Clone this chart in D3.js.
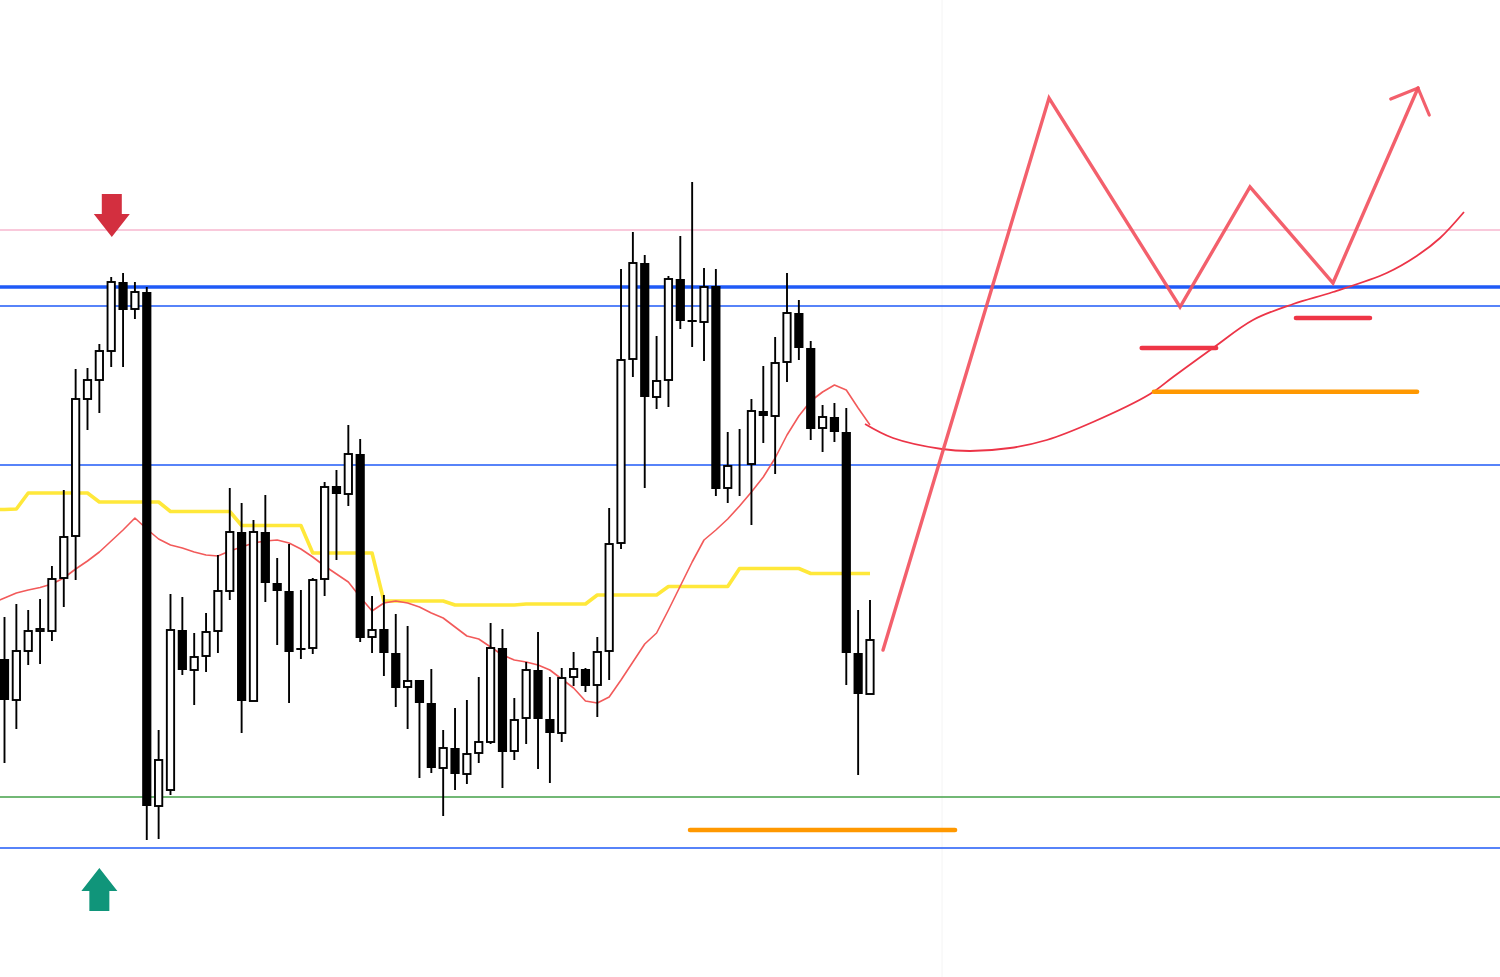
<!DOCTYPE html>
<html>
<head>
<meta charset="utf-8">
<script src="https://cdn.jsdelivr.net/npm/d3@7/dist/d3.min.js"></script>
<style>
  html, body { margin: 0; padding: 0; background: #ffffff; }
  svg { display: block; }
</style>
</head>
<body>
<svg id="chart" width="1500" height="977"></svg>
<script>
// ---------------- DATA ----------------
// candle OHLC (arbitrary price units, index 0..73)
const open  = [341,300,349,369,369,422,464,601,620,649,718,691,708,194,210,370,330,344,369,409,
               468,299,468,417,409,352,352,421,514,506,546,363,371,347,313,320,297,232,252,226,
               247,258,352,249,282,330,281,267,323,331,315,349,457,641,737,603,620,721,680,678,
               714,512,536,536,589,584,638,687,652,572,583,568,347,306];
const high  = [383,396,390,401,434,510,631,632,656,723,727,718,713,270,406,403,367,387,445,512,
               497,480,505,442,456,410,422,518,530,575,561,404,405,386,374,320,331,270,292,300,
               323,377,371,302,338,368,323,332,348,332,363,492,731,768,745,664,724,764,818,732,
               731,568,571,601,634,663,727,700,659,595,597,592,390,400];
const low   = [237,271,335,336,359,393,420,570,587,633,633,681,160,161,205,325,295,328,347,400,
               267,299,398,355,297,341,346,404,440,494,358,347,324,293,271,222,227,184,210,216,
               237,256,212,240,256,231,217,258,314,308,283,320,451,623,512,591,593,671,653,639,
               504,497,504,475,557,526,618,640,560,548,558,315,225,306];
const close = [300,349,369,371,421,463,601,620,649,718,690,708,194,240,370,330,343,368,409,468,
               299,468,417,409,348,350,420,513,506,546,362,370,347,312,319,297,232,252,226,246,
               258,352,248,280,330,281,267,322,331,314,348,456,640,737,603,619,721,679,679,713,
               511,534,536,589,584,637,687,652,571,583,568,347,306,360];

// moving averages, first value belongs to index -1
const maStart = -1;
const yellowMA = [490.5,490.5,491,507,507,507,507,507,507,498,498,498,498,498,498,488.5,488.5,488.5,488.5,488.5,488.5,
                  474.5,474.5,474.5,474.5,474.5,474.5,447,447,447,447,447,447,399,399,399,399,399,399,
                  395,395,395,395,395,395,396,396,396,396,396,396,405,405,405,405,405,405,
                  413.5,413.5,413.5,413.5,413.5,413.5,431.5,431.5,431.5,431.5,431.5,431.5,426.5,426.5,426.5,426.5,426.5,426.5];
const redMA = [397,402,407,410,412.5,416,422,431,439,448,459,470,482,471,461,455,452,448,445,444,449,
               453,457,459,460,457,451,443,434,426,418,403,389,397,399,397,393,387,382,373,364,
               361,353,345,340,338,335,330,321,312,299,297,303,320,338,356,367,390,414,438,460,
               470,481,494,508,523,542,565,584,599,608,615,610,592,575];

// projected MA curve  [index, value]
const forecastIdx = [72.58,74.94,79.05,81.44,84.81,87.91,91.81,96.62,98.56,101.93,105.3,108.7,112.05,116.58,119.11,121.08,123.1];
const forecastVal = [576,562,551,549,552,560,578,606,623,652,680,696,708,727,744,762,788];

// projected zigzag path
const zigIdx = [74.10,88.10,99.15,105.05,112.05,119.22];
const zigVal = [350,902,693,813,717,912];
const arrowHeadIdx = [116.92,119.22,120.17];
const arrowHeadVal = [901,912,885];

// full-width horizontal levels
const levels      = [770,713,694,535,203,152];
const levelColors = ["#f7b7cf","#1f5af7","#1f5af7","#1f5af7","#43a047","#1f5af7"];
const levelWidths = [1.3,3.4,1.7,1.7,1.6,1.7];

// short horizontal segments
const segStart  = [95.92,108.93,96.95,57.82];
const segEnd    = [102.19,115.17,119.14,80.17];
const segVal    = [652,682,608.3,170];
const segColors = ["#ee3546","#ee3546","#ff9800","#ff9800"];

// signal arrows
const arrowIdx = [9.05, 8.0];
const arrowVal = [763, 132];
const arrowDir = ["down","up"];
const arrowColors = ["#d32f3f","#10957a"];

// ---------------- SCALES ----------------
const W = 1500, H = 977;
const svg = d3.select("#chart");
const x = d3.scaleLinear().domain([0, 73]).range([4.5, 870]);
const y = d3.scaleLinear().domain([23, 1000]).range([977, 0]);

svg.append("rect").attr("width", W).attr("height", H).attr("fill", "#ffffff");

// faint vertical separator
svg.append("line").attr("x1", 942).attr("x2", 942).attr("y1", 0).attr("y2", H)
   .attr("stroke", "#f4f4f4").attr("stroke-width", 1);

// levels
svg.append("g").selectAll("line").data(levels).join("line")
  .attr("x1", 0).attr("x2", W)
  .attr("y1", d => y(d)).attr("y2", d => y(d))
  .attr("stroke", (d, i) => levelColors[i])
  .attr("stroke-width", (d, i) => levelWidths[i]);

// moving averages
const maLine = d3.line().x((d, i) => x(i + maStart)).y(d => y(d));
svg.append("path").datum(yellowMA).attr("d", maLine)
  .attr("fill", "none").attr("stroke", "#ffe83a").attr("stroke-width", 3.6)
  .attr("stroke-linejoin", "round");
svg.append("path").datum(redMA).attr("d", maLine)
  .attr("fill", "none").attr("stroke", "#f25a5a").attr("stroke-width", 1.6)
  .attr("stroke-linejoin", "round");

// candles
const candles = d3.range(open.length).map(i => ({i, o: open[i], h: high[i], l: low[i], c: close[i]}));
const bodyW = 9.2;
const g = svg.append("g");
g.selectAll("line.wick").data(candles).join("line").attr("class", "wick")
  .attr("x1", d => x(d.i)).attr("x2", d => x(d.i))
  .attr("y1", d => y(d.h)).attr("y2", d => y(d.l))
  .attr("stroke", "#000").attr("stroke-width", 1.9);
g.selectAll("rect.body").data(candles).join("rect").attr("class", "body")
  .each(function(d) {
    const up = d.c >= d.o;
    const top = y(Math.max(d.o, d.c));
    const bot = y(Math.min(d.o, d.c));
    const sel = d3.select(this);
    if (up) {
      sel.attr("x", x(d.i) - bodyW / 2 + 0.95).attr("width", bodyW - 1.9)
         .attr("y", top).attr("height", Math.max(0, bot - top))
         .attr("fill", "#fff").attr("stroke", "#000").attr("stroke-width", 1.9);
    } else {
      sel.attr("x", x(d.i) - bodyW / 2).attr("width", bodyW)
         .attr("y", top).attr("height", Math.max(2, bot - top))
         .attr("fill", "#000");
    }
  });

// projected MA curve
const fLine = d3.line().x(d => x(d[0])).y(d => y(d[1])).curve(d3.curveCatmullRom.alpha(0.5));
svg.append("path").datum(forecastIdx.map((v, i) => [v, forecastVal[i]])).attr("d", fLine)
  .attr("fill", "none").attr("stroke", "#ec3447").attr("stroke-width", 1.8);

// short segments
svg.append("g").selectAll("line").data(segVal).join("line")
  .attr("x1", (d, i) => x(segStart[i])).attr("x2", (d, i) => x(segEnd[i]))
  .attr("y1", d => y(d)).attr("y2", d => y(d))
  .attr("stroke", (d, i) => segColors[i]).attr("stroke-width", 4.6)
  .attr("stroke-linecap", "round");

// zigzag projection
const pLine = d3.line().x(d => x(d[0])).y(d => y(d[1]));
svg.append("path").datum(zigIdx.map((v, i) => [v, zigVal[i]])).attr("d", pLine)
  .attr("fill", "none").attr("stroke", "#f2525f").attr("stroke-width", 3.4)
  .attr("stroke-opacity", 0.92).attr("stroke-linejoin", "miter").attr("stroke-linecap", "round");
svg.append("path").datum(arrowHeadIdx.map((v, i) => [v, arrowHeadVal[i]])).attr("d", pLine)
  .attr("fill", "none").attr("stroke", "#f2525f").attr("stroke-width", 3.2)
  .attr("stroke-opacity", 0.92).attr("stroke-linejoin", "miter").attr("stroke-linecap", "round");

// signal arrows (tip at anchor)
arrowIdx.forEach((idx, k) => {
  const tx = x(idx), ty = y(arrowVal[k]);
  const s = arrowDir[k] === "down" ? -1 : 1; // direction of body from tip
  const headH = 23, headHalf = 18, shaftHalf = 10, shaftLen = 20;
  const pts = [
    [tx, ty],
    [tx + headHalf, ty + s * headH],
    [tx + shaftHalf, ty + s * headH],
    [tx + shaftHalf, ty + s * (headH + shaftLen)],
    [tx - shaftHalf, ty + s * (headH + shaftLen)],
    [tx - shaftHalf, ty + s * headH],
    [tx - headHalf, ty + s * headH]
  ];
  svg.append("polygon").attr("points", pts.map(p => p.join(",")).join(" "))
     .attr("fill", arrowColors[k]);
});
</script>
</body>
</html>
